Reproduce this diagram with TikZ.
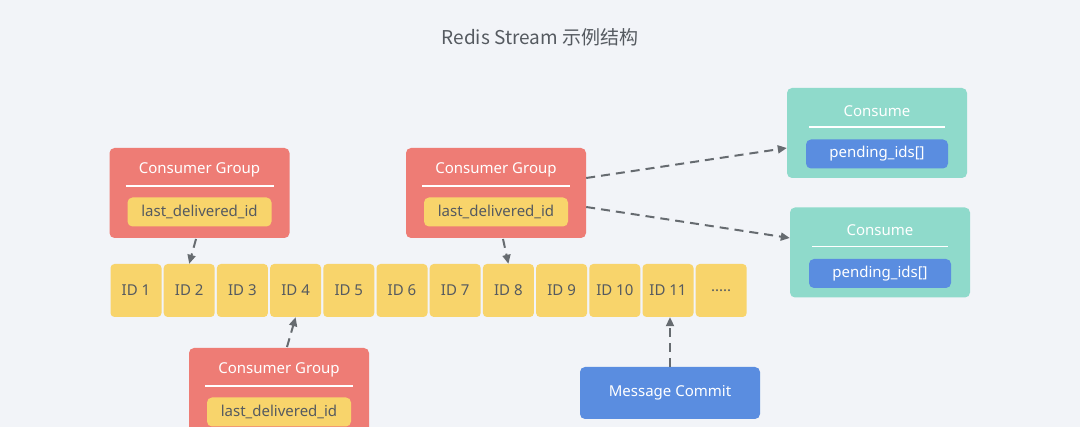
\documentclass[tikz,border=0pt]{standalone}
\usepackage{fontspec}
\setmainfont{Noto Sans}
\newfontfamily\cjk{Noto Sans CJK SC}
\usetikzlibrary{positioning,arrows.meta}
\definecolor{bgcol}{HTML}{F2F4F8}
\definecolor{grpred}{HTML}{EE7C75}
\definecolor{idyel}{HTML}{F8D46B}
\definecolor{conteal}{HTML}{8FDACB}
\definecolor{pendblue}{HTML}{5A8DE0}
\definecolor{txtgray}{HTML}{555A60}
\tikzset{
  box/.style={rectangle, rounded corners=5pt, minimum width=180pt, minimum height=90pt, inner sep=0pt},
  group/.style={box, fill=grpred},
  consume/.style={box, fill=conteal},
  title/.style={text=white, font=\fontsize{15}{18}\selectfont},
  inner/.style={rectangle, rounded corners=5pt, minimum height=29pt, minimum width=142pt, inner sep=0pt, font=\fontsize{15}{18}\selectfont},
  lastid/.style={inner, fill=idyel, text=txtgray},
  pending/.style={inner, fill=pendblue, text=white},
  cell/.style={rectangle, rounded corners=4pt, fill=idyel, text=txtgray, minimum width=51pt, minimum height=53pt, inner sep=0pt, font=\fontsize{15}{18}\selectfont},
  sep/.style={white, line width=1.2pt},
  arrow/.style={draw=txtgray!90, line width=2pt, dashed, dash pattern=on 9pt off 6pt, -{Triangle[length=9pt,width=8pt]}}
}
\begin{document}
\begin{tikzpicture}[x=1pt,y=-1pt]
\fill[bgcol] (0,0) rectangle (1080,427);
\useasboundingbox (0,0) rectangle (1080,427);

\node (title) at (540,37) [text=txtgray, font=\cjk\fontsize{19}{22}\selectfont] {Redis Stream 示例结构};

% stream of ids
\foreach \i in {1,...,11}
  \node (id\i) [cell] at ({136+53.2*(\i-1)},290.5) {ID \i};
\node (id12) [cell] at ({136+53.2*11},290.5) {.....};

% consumer groups
\foreach \n/\x/\y in {groupA/199.5/193, groupB/496/193, groupC/279/393}{
  \node (\n) [group] at (\x,\y) {};
  \node (\n title) [title] at (\x,\y-23) {Consumer Group};
  \draw[sep] (\x-74,\y-7) -- (\x+74,\y-7);
  \node (\n id) [lastid, minimum width=144pt] at (\x,\y+19) {last\_delivered\_id};
}

% consumers
\foreach \n/\x/\y in {consA/877/133, consB/880/252.5}{
  \node (\n) [consume] at (\x,\y) {};
  \node (\n title) [title] at (\x,\y-22) {Consume};
  \draw[sep] (\x-68,\y-6) -- (\x+68,\y-6);
  \node (\n ids) [pending] at (\x,\y+21) {pending\_ids[]};
}

\node (commit) [rectangle, rounded corners=5pt, fill=pendblue, text=white, minimum width=180pt, minimum height=52pt, font=\fontsize{15}{18}\selectfont] at (670,393) {Message Commit};

\draw [arrow] (196,239) -- (id2.north);
\draw [arrow] (503,239) -- (id8.north);
\draw [arrow] (287,347) -- (id4.south);
\draw [arrow] (commit.north) -- (commit.north |- id11.south);
\draw [arrow] (groupB.east |- 0,178) -- (consA.west |- 0,148);
\draw [arrow] (groupB.east |- 0,207) -- (consB.west |- 0,238);
\end{tikzpicture}
\end{document}
